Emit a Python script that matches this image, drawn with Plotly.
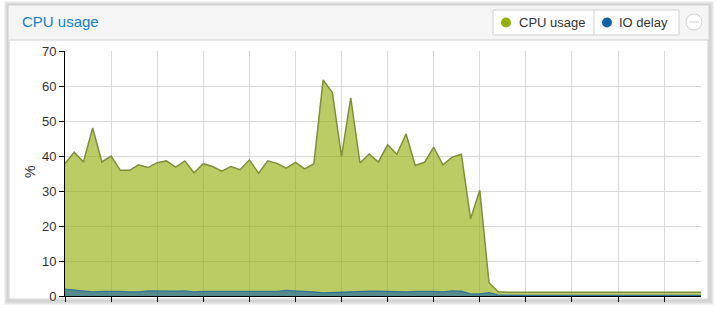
import plotly.graph_objects as go

# ---- data ----
cpu_usage = [37.8, 41.1, 38.3, 48.0, 38.3, 40.0, 35.9, 35.9, 37.5, 36.7,
             38.1, 38.6, 36.8, 38.6, 35.2, 37.8, 37.0, 35.7, 37.0, 36.1,
             38.9, 35.1, 38.6, 37.9, 36.5, 38.2, 36.3, 37.8, 61.7, 58.2,
             39.9, 56.6, 38.0, 40.6, 38.3, 43.2, 40.5, 46.3, 37.3, 38.2,
             42.5, 37.5, 39.7, 40.5, 22.1, 30.2, 3.8, 1.2, 1.1, 1.1,
             1.1, 1.0, 1.1, 1.1, 1.1, 1.2, 1.1, 1.1, 1.1, 1.1,
             1.0, 1.1, 1.1, 1.1, 1.1, 1.1, 1.0, 1.1, 1.1, 1.1]
io_delay = [2.0, 1.7, 1.4, 1.2, 1.3, 1.4, 1.3, 1.2, 1.2, 1.5,
            1.4, 1.3, 1.4, 1.5, 1.2, 1.3, 1.3, 1.3, 1.4, 1.4,
            1.3, 1.3, 1.3, 1.3, 1.6, 1.5, 1.3, 1.2, 0.9, 1.0,
            1.2, 1.3, 1.5, 1.4, 1.4, 1.3, 1.3, 1.2, 1.3, 1.4,
            1.3, 1.2, 1.5, 1.4, 0.6, 0.6, 1.0, 0.3, 0.2, 0.2,
            0.2, 0.2, 0.2, 0.2, 0.2, 0.2, 0.2, 0.2, 0.2, 0.2,
            0.2, 0.2, 0.2, 0.2, 0.2, 0.2, 0.2, 0.2, 0.2, 0.2]
x_idx = list(range(len(cpu_usage)))
y_ticks = [0, 10, 20, 30, 40, 50, 60, 70]
title_text = "CPU usage"
legend_names = ["CPU usage", "IO delay"]
y_title = "%"

W, H = 716, 309
L, R, T, B = 65, 15, 51, 13
PW, PH = W - L - R, H - T - B

def px(x):
    return (x - L) / PW

def py(y):
    return (H - B - y) / PH

FONT = "Liberation Sans, Arial, Helvetica, sans-serif"

fig = go.Figure()
fig.add_trace(go.Scatter(x=x_idx, y=cpu_usage, mode="lines", name=legend_names[0],
                         fill="tozeroy", fillcolor="rgba(148,174,10,0.63)",
                         line=dict(color="#7f8f3a", width=1.5), hoverinfo="skip"))
fig.add_trace(go.Scatter(x=x_idx, y=io_delay, mode="lines", name=legend_names[1],
                         fill="tozeroy", fillcolor="rgba(17,95,166,0.6)",
                         line=dict(color="rgba(17,95,166,0.7)", width=1.2), hoverinfo="skip"))

shapes = []
# shadow
for i, op in enumerate([0.05, 0.05, 0.04, 0.03]):
    d = 4 - i
    shapes.append(dict(type="rect", xref="paper", yref="paper", layer="below",
                       x0=px(8 - d), x1=px(709 + d + 1), y0=py(300 + d + 1), y1=py(5 - d),
                       line=dict(width=0), fillcolor=f"rgba(0,0,0,{op})"))
# panel
shapes.append(dict(type="rect", xref="paper", yref="paper", layer="below",
                   x0=px(8), x1=px(709), y0=py(300), y1=py(5),
                   line=dict(color="#cfcfcf", width=1), fillcolor="#f5f5f5"))
# body
shapes.append(dict(type="rect", xref="paper", yref="paper", layer="below",
                   x0=px(9), x1=px(708), y0=py(299), y1=py(40),
                   line=dict(color="#d0d0d0", width=1), fillcolor="#ffffff"))
# legend box
shapes.append(dict(type="rect", xref="paper", yref="paper", layer="above",
                   x0=px(493), x1=px(679), y0=py(35), y1=py(10),
                   line=dict(color="#d0d0d0", width=1), fillcolor="#ffffff"))
shapes.append(dict(type="line", xref="paper", yref="paper", layer="above",
                   x0=px(594), x1=px(594), y0=py(35), y1=py(10),
                   line=dict(color="#d0d0d0", width=1)))
# legend dots
for cx, col in [(506, "#94ae0a"), (607, "#115fa6")]:
    shapes.append(dict(type="circle", xref="paper", yref="paper", layer="above",
                       xsizemode="pixel", ysizemode="pixel", xanchor=px(cx), yanchor=py(22.5),
                       x0=-5, x1=5, y0=-5, y1=5, line=dict(width=0), fillcolor=col))
# tool icon
shapes.append(dict(type="circle", xref="paper", yref="paper", layer="above",
                   xsizemode="pixel", ysizemode="pixel", xanchor=px(694), yanchor=py(22),
                   x0=-8, x1=8, y0=-8, y1=8, line=dict(color="#d4d4d4", width=1),
                   fillcolor="#ffffff"))
shapes.append(dict(type="line", xref="paper", yref="paper", layer="above",
                   x0=px(689), x1=px(699), y0=py(22), y1=py(22),
                   line=dict(color="#d4d4d4", width=1)))

annotations = [
    dict(text=title_text, xref="paper", yref="paper", x=px(20), y=py(22),
         xanchor="left", yanchor="middle", showarrow=False,
         font=dict(family=FONT, size=15, color="#157fcc")),
    dict(text=legend_names[0], xref="paper", yref="paper", x=px(517), y=py(22.5),
         xanchor="left", yanchor="middle", showarrow=False,
         font=dict(family=FONT, size=13, color="#333333")),
    dict(text=legend_names[1], xref="paper", yref="paper", x=px(617), y=py(22.5),
         xanchor="left", yanchor="middle", showarrow=False,
         font=dict(family=FONT, size=13, color="#333333")),
    dict(text=y_title, xref="paper", yref="paper", x=px(30), y=py(172),
         xanchor="center", yanchor="middle", showarrow=False, textangle=-90,
         font=dict(family=FONT, size=14, color="#333333")),
]

fig.update_layout(
    width=W, height=H, autosize=False,
    margin=dict(l=L, r=R, t=T, b=B, pad=0, autoexpand=False),
    paper_bgcolor="#ffffff", plot_bgcolor="rgba(0,0,0,0)",
    showlegend=False,
    shapes=shapes, annotations=annotations,
    font=dict(family=FONT, size=13, color="#333333"),
    xaxis=dict(range=[0, len(cpu_usage) - 1], dtick=5, tick0=0,
               showgrid=True, gridcolor="#d9d9d9", gridwidth=1,
               showline=True, linecolor="#000000", linewidth=1,
               ticks="outside", ticklen=5, tickcolor="#000000",
               showticklabels=False, zeroline=False, fixedrange=True,
               automargin=False),
    yaxis=dict(range=[0, 70], tickvals=y_ticks,
               showgrid=True, gridcolor="#d9d9d9", gridwidth=1,
               showline=True, linecolor="#000000", linewidth=1,
               ticks="outside", ticklen=5, tickcolor="#000000",
               tickfont=dict(family=FONT, size=13, color="#333333"),
               zeroline=False, fixedrange=True, automargin=False),
)

fig.write_html("out.html")
